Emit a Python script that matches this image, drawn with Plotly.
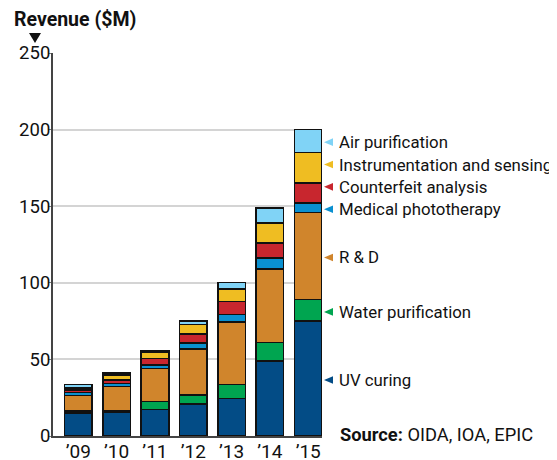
import plotly.graph_objects as go

years = ["’09", "’10", "’11", "’12", "’13", "’14", "’15"]
segments = ["UV curing", "Water purification", "R & D", "Medical phototherapy",
            "Counterfeit analysis", "Instrumentation and sensing", "Air purification"]
uv_curing = [15, 15.5, 17.4, 20.7, 24.6, 49, 75]
water_purification = [1.5, 1.2, 5, 6.1, 9.1, 12, 14]
r_and_d = [10, 15.5, 21.7, 29.8, 40.9, 48, 57]
medical_phototherapy = [2, 2, 2.2, 4.3, 4.8, 7, 6]
counterfeit_analysis = [1.5, 2.5, 4.4, 5.7, 8.3, 10, 13]
instrumentation_sensing = [1.5, 3, 4, 6.2, 8.1, 13, 20]
air_purification = [2, 1.5, 1, 2.1, 4.5, 10, 15]
series = [uv_curing, water_purification, r_and_d, medical_phototherapy,
          counterfeit_analysis, instrumentation_sensing, air_purification]
colors = ["#034c86", "#00a550", "#d0852c", "#0a90d0", "#c8262e", "#efbd22", "#80d3f6"]
y_ticks = [0, 50, 100, 150, 200, 250]

FONT = "Roboto, sans-serif"
TXT = "#111111"

# page body has an 8px margin; figure is sized so it fits the window
OFF = 8
W, H = 557 - OFF, 460 - OFF
L, R, T, B = 53 - OFF, 235, 53 - OFF, 24
pw, ph = W - L - R, H - T - B


def px_x(xw):
    return (xw - OFF - L) / pw


def px_y(yw):
    return (H - B - (yw - OFF)) / ph


fig = go.Figure()
xs = list(range(len(years)))
for name, vals, col in zip(segments, series, colors):
    fig.add_trace(go.Bar(
        x=xs, y=vals, name=name, width=0.72,
        marker=dict(color=col, line=dict(color="#111111", width=1.6)),
        showlegend=False,
    ))

fig.update_layout(
    width=W, height=H, barmode="stack",
    margin=dict(l=L, r=R, t=T, b=B, autoexpand=False),
    plot_bgcolor="white", paper_bgcolor="white",
    font=dict(family=FONT, color=TXT),
    xaxis=dict(
        range=[-0.66, 6.36], tickvals=xs, ticktext=years,
        showgrid=False, showline=True, linecolor="#444444", linewidth=2,
        ticks="", tickfont=dict(size=19, color=TXT), zeroline=False,
        ticklabelstandoff=-3,
    ),
    yaxis=dict(
        range=[0, 250], tickvals=y_ticks, showgrid=True, gridcolor="#d4d4d4",
        gridwidth=1.5, showline=True, linecolor="#444444", linewidth=2,
        ticks="outside", ticklen=3, tickcolor="#777777", ticklabelstandoff=-6,
        tickfont=dict(size=18.5, color=TXT), zeroline=False,
    ),
)

# legend labels next to the last bar, at segment midpoints (spread to avoid overlap)
last = [s[-1] for s in series]
mids = []
acc = 0
for v in last:
    mids.append(acc + v / 2)
    acc += v
label_y = list(mids)
gap = 14.6
for i in range(1, len(label_y)):
    if i >= 3 and label_y[i] < label_y[i - 1] + gap:
        label_y[i] = label_y[i - 1] + gap

units_per_px = 250 / ph
tri_half = 3.8 * units_per_px
nudge = 1.5 * units_per_px
shapes = []
for name, col, ly in zip(segments, colors, label_y):
    ly = ly - nudge
    x_tip, x_base = px_x(324), px_x(333)
    shapes.append(dict(
        type="path", xref="paper", yref="y",
        path=f"M {x_tip},{ly} L {x_base},{ly + tri_half} L {x_base},{ly - tri_half} Z",
        fillcolor=col, line=dict(width=0),
    ))
    fig.add_annotation(x=px_x(337), xref="paper", y=ly, yref="y", text=name,
                       showarrow=False, font=dict(size=16.8, color=TXT),
                       xanchor="left", yanchor="middle")

# down arrow under axis title
shapes.append(dict(
    type="path", xref="paper", yref="paper",
    path=f"M {px_x(29)},{px_y(33)} L {px_x(41)},{px_y(33)} L {px_x(35)},{px_y(43)} Z",
    fillcolor=TXT, line=dict(width=0),
))
fig.update_layout(shapes=shapes)

fig.add_annotation(x=px_x(12), xref="paper", y=px_y(19), yref="paper",
                   text="<b>Revenue ($M)</b>", showarrow=False,
                   font=dict(size=19.5, color=TXT), xanchor="left", yanchor="middle")
fig.add_annotation(x=px_x(338), xref="paper", y=px_y(434), yref="paper",
                   text="<b>Source:</b> OIDA, IOA, EPIC", showarrow=False,
                   font=dict(size=18.3, color=TXT), xanchor="left", yanchor="middle")

fig.write_html("out.html")
